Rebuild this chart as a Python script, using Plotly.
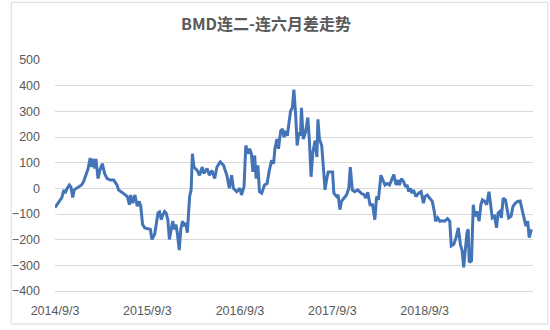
import plotly.graph_objects as go

title_text = "BMD连二-连六月差走势"

dates = (
    ["2014-09-03", "2014-09-21", "2014-09-30", "2014-10-08", "2014-10-13", "2014-10-21", "2014-10-30",
     "2014-11-05", "2014-11-12", "2014-11-18", "2014-11-29", "2014-12-08", "2014-12-17", "2014-12-25"]
    + ["2015-01-03", "2015-01-12", "2015-01-20", "2015-01-26", "2015-02-02", "2015-02-07", "2015-02-12",
       "2015-02-20", "2015-02-27", "2015-03-09", "2015-03-18", "2015-03-28", "2015-04-10", "2015-04-23",
       "2015-05-06", "2015-05-12", "2015-05-25", "2015-06-07", "2015-06-16", "2015-06-24", "2015-06-29",
       "2015-07-07", "2015-07-16", "2015-07-25", "2015-08-02", "2015-08-08", "2015-08-15", "2015-08-24",
       "2015-09-06", "2015-09-15", "2015-09-21", "2015-10-02", "2015-10-08", "2015-10-15", "2015-10-21",
       "2015-10-28", "2015-11-03", "2015-11-10", "2015-11-16", "2015-11-23", "2015-11-29", "2015-12-06",
       "2015-12-12", "2015-12-19", "2015-12-25", "2015-12-31"]
    + ["2016-01-07", "2016-01-13", "2016-01-20", "2016-01-26", "2016-02-02", "2016-02-08", "2016-02-12",
       "2016-02-17", "2016-02-23", "2016-02-28", "2016-03-05", "2016-03-18", "2016-03-27", "2016-04-07",
       "2016-04-13", "2016-04-26", "2016-05-05", "2016-05-15", "2016-05-26", "2016-06-04", "2016-06-17",
       "2016-06-30", "2016-07-13", "2016-07-23", "2016-08-01", "2016-08-08", "2016-08-21", "2016-09-03",
       "2016-09-09", "2016-09-19", "2016-09-26", "2016-10-05", "2016-10-11", "2016-10-18", "2016-10-24",
       "2016-10-31", "2016-11-06", "2016-11-13", "2016-11-19", "2016-11-28", "2016-12-09", "2016-12-19",
       "2016-12-28"]
    + ["2017-01-06", "2017-01-14", "2017-01-19", "2017-01-27", "2017-02-02", "2017-02-11", "2017-02-18",
       "2017-02-24", "2017-03-03", "2017-03-09", "2017-03-16", "2017-03-22", "2017-03-29", "2017-04-04",
       "2017-04-11", "2017-04-17", "2017-04-24", "2017-04-30", "2017-05-04", "2017-05-11", "2017-05-20",
       "2017-05-29", "2017-06-04", "2017-06-11", "2017-06-18", "2017-06-27", "2017-07-04", "2017-07-08",
       "2017-07-14", "2017-07-23", "2017-07-30", "2017-08-05", "2017-08-12", "2017-08-18", "2017-08-25",
       "2017-09-04", "2017-09-09", "2017-09-20", "2017-09-26", "2017-10-03", "2017-10-09", "2017-10-18",
       "2017-10-29", "2017-11-07", "2017-11-13", "2017-11-21", "2017-11-30", "2017-12-13", "2017-12-26"]
    + ["2018-01-08", "2018-01-12", "2018-01-21", "2018-01-30", "2018-02-09", "2018-02-18", "2018-02-25",
       "2018-03-04", "2018-03-14", "2018-03-23", "2018-03-30", "2018-04-08", "2018-04-17", "2018-04-25",
       "2018-05-04", "2018-05-13", "2018-05-21", "2018-05-26", "2018-06-03", "2018-06-12", "2018-06-19",
       "2018-06-25", "2018-07-02", "2018-07-08", "2018-07-15", "2018-07-21", "2018-07-30", "2018-08-10",
       "2018-08-20", "2018-08-29", "2018-09-04", "2018-09-13", "2018-09-24", "2018-10-03", "2018-10-11",
       "2018-10-16", "2018-10-24", "2018-11-02", "2018-11-11", "2018-11-21", "2018-12-02", "2018-12-11",
       "2018-12-17", "2018-12-27"]
    + ["2019-01-05", "2019-01-14", "2019-01-22", "2019-01-29", "2019-02-04", "2019-02-11", "2019-02-17",
       "2019-02-22", "2019-02-26", "2019-03-07", "2019-03-14", "2019-03-20", "2019-03-28", "2019-04-06",
       "2019-04-13", "2019-04-19", "2019-04-28", "2019-05-06", "2019-05-15", "2019-05-21", "2019-05-28",
       "2019-06-06", "2019-06-14", "2019-06-20", "2019-06-27", "2019-07-03", "2019-07-10", "2019-07-19",
       "2019-07-25", "2019-08-01", "2019-08-10", "2019-08-18", "2019-08-27", "2019-09-05", "2019-09-15",
       "2019-09-25", "2019-10-02", "2019-10-08", "2019-10-15", "2019-10-21", "2019-10-30"]
)

spread = (
    [-75, -51, -36, -6, -19, 0, 13,
     6, -36, -6, 0, 6, 13, 26]
    + [51, 77, 118, 83, 115, 77, 115,
       38, 70, 96, 58, 38, 32, 32,
       13, -6, -15, -23, -32, -64, -26,
       -58, -26, -70, -51, -70, -141, -154,
       -156, -160, -199, -179, -141, -96, -92,
       -122, -103, -90, -96, -122, -199, -154,
       -128, -160, -141, -179]
    + [-241, -160, -128, -147, -135, -173, -103,
       -32, -6, 135, 83, 70, 51, 83,
       58, 77, 51, 70, 38, 83, 103,
       90, 51, 0, 51, 0, -13, 0,
       -26, 6, 167, 135, 154, 135, 64,
       128, 38, 90, -13, -19, 13, 19,
       70]
    + [109, 96, 154, 192, 154, 224, 231,
       199, 224, 205, 256, 301, 314, 385,
       288, 167, 218, 205, 314, 192, 218,
       276, 192, 45, 141, 186, 122, 269,
       192, 167, 77, -6, 38, 64, 64,
       64, -19, -32, -26, -83, -51, -38,
       -26, 0, 83, -6, -13, -6, -19]
    + [-26, -38, -15, -64, -64, -122, -32,
       -45, 51, 26, 13, 19, 13, 32,
       54, 13, 32, 13, 38, 26, 6,
       13, -13, 0, -19, -6, -32, -19,
       -13, -58, -32, -26, -38, -51, -90,
       -128, -115, -128, -126, -128, -118, -128,
       -224, -218]
    + [-192, -154, -218, -244, -308, -231, -173,
       -160, -288, -282, -64, -109, -90, -128,
       -64, -45, -51, -64, -13, -58, -115,
       -109, -154, -96, -90, -115, -38, -45,
       -77, -115, -109, -70, -58, -51, -49,
       -90, -128, -147, -128, -192, -160]
)

assert len(dates) == len(spread)

tick_dates = ["2014-09-03", "2015-09-03", "2016-09-03", "2017-09-03", "2018-09-03"]
tick_labels = ["2014/9/3", "2015/9/3", "2016/9/3", "2017/9/3", "2018/9/3"]
y_ticks = [-400, -300, -200, -100, 0, 100, 200, 300, 400, 500]

W, H = 550, 330
ML, MR, MT, MB = 47, 17, 60, 36
pw, ph = W - ML - MR, H - MT - MB

fig = go.Figure()
fig.add_trace(go.Scatter(
    x=dates, y=spread, mode="lines",
    line=dict(color="#4374B7", width=3),
    hoverinfo="x+y", showlegend=False,
))

label_font = dict(family="Liberation Sans, Arial, sans-serif", size=12.5, color="#595959")

fig.update_layout(
    width=W, height=H,
    margin=dict(l=ML, r=MR, t=MT, b=MB, pad=0),
    paper_bgcolor="white", plot_bgcolor="white",
    xaxis=dict(
        type="date", range=["2014-09-03", "2019-11-05"],
        tickmode="array", tickvals=tick_dates, ticktext=tick_labels,
        showgrid=False, zeroline=False, showline=True, linecolor="#D9D9D9", linewidth=1,
        ticks="", tickfont=label_font, ticklabelstandoff=8,
    ),
    yaxis=dict(
        range=[-400, 500], tickmode="array", tickvals=y_ticks,
        showgrid=True, gridcolor="#D9D9D9", gridwidth=1,
        zeroline=False, showline=False, ticks="",
        tickfont=label_font, ticklabelstandoff=14,
    ),
    annotations=[dict(
        text="<b>" + title_text + "</b>",
        xref="paper", yref="paper",
        x=(262 - ML) / pw, y=1 + (MT - 23) / ph,
        xanchor="center", yanchor="middle", showarrow=False,
        font=dict(family="Noto Sans CJK SC, Noto Sans, sans-serif", size=16, color="#595959"),
    )],
    shapes=[dict(
        type="rect", xref="paper", yref="paper",
        x0=(2.5 - ML) / pw, x1=(548 - ML) / pw,
        y0=-(327.5 - MT - ph) / ph, y1=1 + (MT - 1.5) / ph,
        line=dict(color="#D9D9D9", width=1), fillcolor="rgba(0,0,0,0)", layer="below",
    )],
)

fig.write_html("out.html")
